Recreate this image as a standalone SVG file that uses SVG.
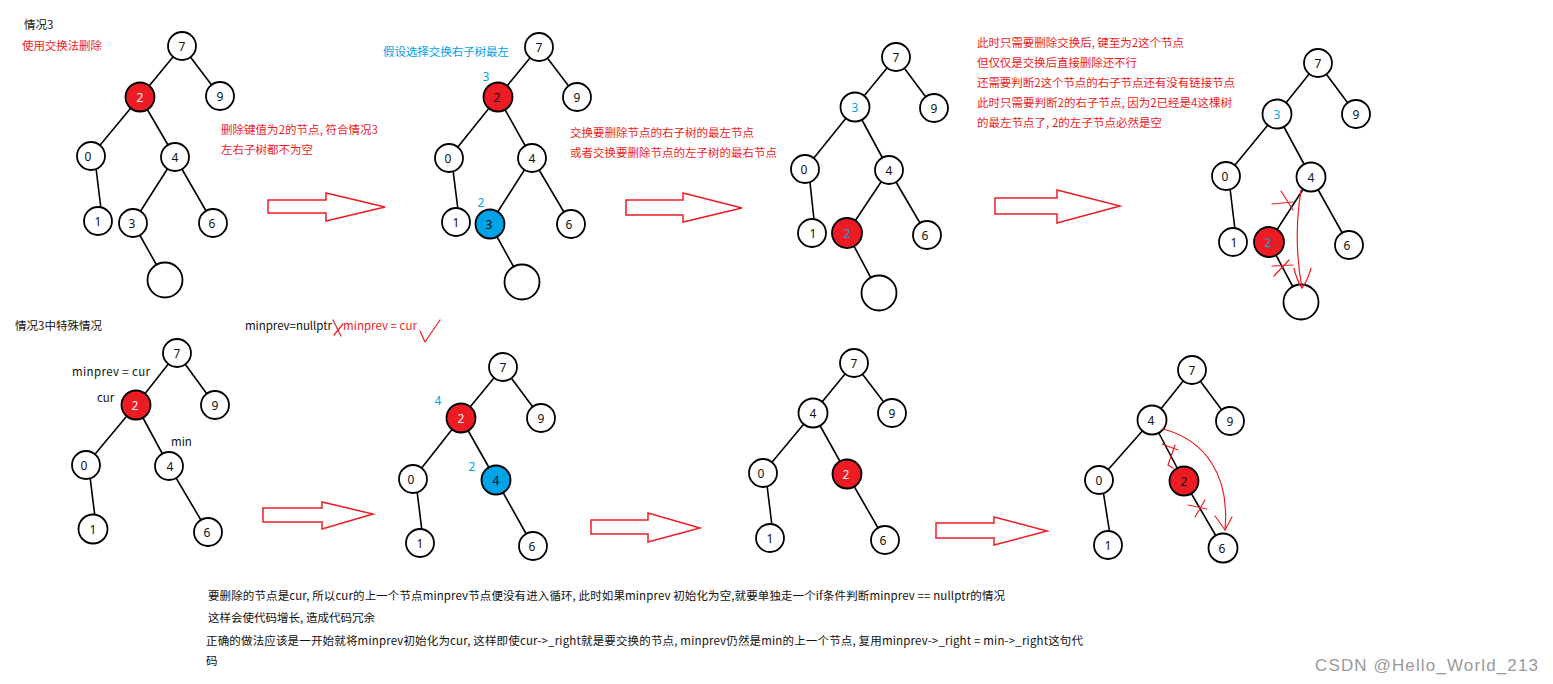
<svg xmlns="http://www.w3.org/2000/svg" width="1553" height="684" viewBox="0 0 1553 684">
<style>
.n{fill:#fff;stroke:#000;stroke-width:1.8}
.r{fill:#ED1C24}
.b{fill:#00A2E8}
.d{font-family:"Noto Sans","Liberation Sans",sans-serif;font-size:12px;text-anchor:middle;fill:#111}
.dl{fill:#f2f2f2}
.db{fill:#00A2E8}
.e line{stroke:#000;stroke-width:1.6}
.t{font-family:"Noto Sans CJK SC","Noto Sans",sans-serif;font-size:11.5px;fill:#111}
.red{fill:#ED1C24}
.blue{fill:#00A2E8}
.arr{fill:#fff;stroke:#ED1C24;stroke-width:1.5}
.mk{fill:none;stroke:#ED1C24;stroke-width:1.2;stroke-linecap:round;stroke-linejoin:round}
.wm{font-family:"Liberation Sans",Arial,sans-serif;font-size:17px;fill:#999}
</style>
<rect width="1553" height="684" fill="#fff"/>

<g id="connectors" class="e">
<!-- T1 -->
<line x1="182" y1="46" x2="140" y2="97"/><line x1="182" y1="46" x2="220" y2="96"/>
<line x1="140" y1="97" x2="91" y2="156"/><line x1="140" y1="97" x2="175" y2="157"/>
<line x1="95" y1="160" x2="102" y2="217"/><line x1="175" y1="157" x2="133" y2="223"/>
<line x1="175" y1="157" x2="213" y2="223"/><line x1="133" y1="223" x2="165" y2="280"/>
<!-- T2 -->
<line x1="539" y1="47" x2="498" y2="97"/><line x1="539" y1="47" x2="577" y2="97"/>
<line x1="498" y1="97" x2="449" y2="158"/><line x1="498" y1="97" x2="532" y2="158"/>
<line x1="452" y1="162" x2="459" y2="218"/><line x1="532" y1="158" x2="490" y2="224"/>
<line x1="532" y1="158" x2="571" y2="224"/><line x1="490" y1="224" x2="522" y2="282"/>
<!-- T3 -->
<line x1="896" y1="57" x2="855" y2="107"/><line x1="896" y1="57" x2="934" y2="108"/>
<line x1="855" y1="107" x2="805" y2="169"/><line x1="855" y1="107" x2="889" y2="170"/>
<line x1="809" y1="173" x2="815" y2="229"/><line x1="889" y1="170" x2="847" y2="233"/>
<line x1="889" y1="170" x2="927" y2="235"/><line x1="847" y1="233" x2="879" y2="293"/>
<!-- T4 -->
<line x1="1318" y1="63" x2="1277" y2="114"/><line x1="1318" y1="63" x2="1356" y2="114"/>
<line x1="1277" y1="114" x2="1226" y2="176"/><line x1="1277" y1="114" x2="1311" y2="177"/>
<line x1="1229" y1="180" x2="1236" y2="238"/><line x1="1311" y1="177" x2="1269" y2="242"/>
<line x1="1311" y1="177" x2="1349" y2="245"/><line x1="1269" y1="242" x2="1301" y2="302"/>
<!-- T5 -->
<line x1="177" y1="353" x2="136" y2="405"/><line x1="177" y1="353" x2="215" y2="405"/>
<line x1="136" y1="405" x2="86" y2="465"/><line x1="136" y1="405" x2="169" y2="466"/>
<line x1="89" y1="469" x2="96" y2="525"/><line x1="169" y1="466" x2="208" y2="532"/>
<!-- T6 -->
<line x1="503" y1="367" x2="461" y2="418"/><line x1="503" y1="367" x2="541" y2="418"/>
<line x1="461" y1="418" x2="413" y2="479"/><line x1="461" y1="418" x2="496" y2="480"/>
<line x1="416" y1="483" x2="423" y2="539"/><line x1="496" y1="480" x2="533" y2="546"/>
<!-- T7 -->
<line x1="854" y1="363" x2="813" y2="413"/><line x1="854" y1="363" x2="892" y2="413"/>
<line x1="813" y1="413" x2="763" y2="473"/><line x1="813" y1="413" x2="847" y2="474"/>
<line x1="766" y1="477" x2="773" y2="534"/><line x1="847" y1="474" x2="885" y2="540"/>
<!-- T8 -->
<line x1="1192" y1="370" x2="1152" y2="420"/><line x1="1192" y1="370" x2="1230" y2="421"/>
<line x1="1152" y1="420" x2="1099" y2="480"/><line x1="1152" y1="420" x2="1184" y2="481"/>
<line x1="1102" y1="484" x2="1111" y2="541"/><line x1="1184" y1="481" x2="1223" y2="548"/>
</g>

<g id="arrows">
<polygon class="arr" points="268,200 326,200 326,193 385,207 326,221 326,213 268,213"/>
<polygon class="arr" points="626,200 683,200 683,193 742,208 683,222 683,215 626,215"/>
<polygon class="arr" points="995,198 1057,198 1057,190 1120,206 1057,223 1057,214 995,214"/>
<polygon class="arr" points="263,508 322,508 322,502 373,514 322,529 322,522 263,522"/>
<polygon class="arr" points="591,520 648,520 648,513 700,528 648,542 648,534 591,534"/>
<polygon class="arr" points="936,523 994,523 994,517 1047,531 994,545 994,538 936,538"/>
</g>

<!-- Tree 1 -->
<g id="t1-n7"><circle class="n" cx="182" cy="46" r="14"/><text class="d" x="182" y="50.5">7</text></g>
<g id="t1-n2"><circle class="n r" cx="140" cy="97" r="14.5"/><text class="d dl" x="140" y="101.5">2</text></g>
<g id="t1-n9"><circle class="n" cx="220" cy="96" r="14"/><text class="d" x="220" y="100.5">9</text></g>
<g id="t1-n0"><circle class="n" cx="91" cy="156" r="14"/><text class="d" x="88" y="160.5">0</text></g>
<g id="t1-n4"><circle class="n" cx="175" cy="157" r="14"/><text class="d" x="175" y="161.5">4</text></g>
<g id="t1-n1"><circle class="n" cx="98" cy="221" r="14"/><text class="d" x="98" y="225.5">1</text></g>
<g id="t1-n3"><circle class="n" cx="133" cy="223" r="14"/><text class="d" x="132" y="227.5">3</text></g>
<g id="t1-n6"><circle class="n" cx="213" cy="223" r="14"/><text class="d" x="212" y="227.5">6</text></g>
<g id="t1-nil"><circle class="n" cx="165" cy="280" r="17.5"/></g>

<!-- Tree 2 -->
<g id="t2-n7"><circle class="n" cx="539" cy="47" r="14"/><text class="d" x="539" y="51.5">7</text></g>
<g id="t2-n2"><circle class="n r" cx="498" cy="97" r="14.5"/><text class="d" x="497" y="101.5">2</text><text class="d db" x="486" y="81">3</text></g>
<g id="t2-n9"><circle class="n" cx="577" cy="97" r="14"/><text class="d" x="577" y="101.5">9</text></g>
<g id="t2-n0"><circle class="n" cx="449" cy="158" r="14"/><text class="d" x="448" y="162.5">0</text></g>
<g id="t2-n4"><circle class="n" cx="532" cy="158" r="14"/><text class="d" x="532" y="162.5">4</text></g>
<g id="t2-n1"><circle class="n" cx="456" cy="222" r="14"/><text class="d" x="456" y="226.5">1</text></g>
<g id="t2-n3"><circle class="n b" cx="490" cy="224" r="14.5"/><text class="d" x="489" y="228.5">3</text><text class="d db" x="481" y="207">2</text></g>
<g id="t2-n6"><circle class="n" cx="571" cy="224" r="14"/><text class="d" x="569" y="228.5">6</text></g>
<g id="t2-nil"><circle class="n" cx="522" cy="282" r="17.5"/></g>

<!-- Tree 3 -->
<g id="t3-n7"><circle class="n" cx="896" cy="57" r="14"/><text class="d" x="896" y="61.5">7</text></g>
<g id="t3-n3"><circle class="n" cx="855" cy="107" r="14.5"/><text class="d db" x="855" y="111.5">3</text></g>
<g id="t3-n9"><circle class="n" cx="934" cy="108" r="14"/><text class="d" x="934" y="112.5">9</text></g>
<g id="t3-n0"><circle class="n" cx="805" cy="169" r="14"/><text class="d" x="804" y="173.5">0</text></g>
<g id="t3-n4"><circle class="n" cx="889" cy="170" r="14"/><text class="d" x="889" y="174.5">4</text></g>
<g id="t3-n1"><circle class="n" cx="812" cy="233" r="14"/><text class="d" x="813" y="237.5">1</text></g>
<g id="t3-n2"><circle class="n r" cx="847" cy="233" r="15"/><text class="d db" x="847" y="237.5">2</text></g>
<g id="t3-n6"><circle class="n" cx="927" cy="235" r="14"/><text class="d" x="925" y="239.5">6</text></g>
<g id="t3-nil"><circle class="n" cx="879" cy="293" r="17.5"/></g>

<!-- Tree 4 -->
<g id="t4-n7"><circle class="n" cx="1318" cy="63" r="14"/><text class="d" x="1318" y="67.5">7</text></g>
<g id="t4-n3"><circle class="n" cx="1277" cy="114" r="14.5"/><text class="d db" x="1277" y="118.5">3</text></g>
<g id="t4-n9"><circle class="n" cx="1356" cy="114" r="14"/><text class="d" x="1356" y="118.5">9</text></g>
<g id="t4-n0"><circle class="n" cx="1226" cy="176" r="14"/><text class="d" x="1225" y="180.5">0</text></g>
<g id="t4-n4"><circle class="n" cx="1311" cy="177" r="14.5"/><text class="d" x="1311" y="181.5">4</text></g>
<g id="t4-n1"><circle class="n" cx="1233" cy="242" r="14"/><text class="d" x="1234" y="246.5">1</text></g>
<g id="t4-n2"><circle class="n r" cx="1269" cy="242" r="15"/><text class="d db" x="1268" y="246.5">2</text></g>
<g id="t4-n6"><circle class="n" cx="1349" cy="245" r="14"/><text class="d" x="1347" y="249.5">6</text></g>
<g id="t4-nil"><circle class="n" cx="1301" cy="302" r="17.5"/></g>

<!-- Tree 5 -->
<g id="t5-n7"><circle class="n" cx="177" cy="353" r="14"/><text class="d" x="177" y="357.5">7</text></g>
<g id="t5-n2"><circle class="n r" cx="136" cy="405" r="14.5"/><text class="d dl" x="135" y="409.5">2</text></g>
<g id="t5-n9"><circle class="n" cx="215" cy="405" r="14"/><text class="d" x="215" y="409.5">9</text></g>
<g id="t5-n0"><circle class="n" cx="86" cy="465" r="14"/><text class="d" x="84" y="469.5">0</text></g>
<g id="t5-n4"><circle class="n" cx="169" cy="466" r="14"/><text class="d" x="170" y="470.5">4</text></g>
<g id="t5-n1"><circle class="n" cx="93" cy="529" r="14.5"/><text class="d" x="93" y="533.5">1</text></g>
<g id="t5-n6"><circle class="n" cx="208" cy="532" r="14"/><text class="d" x="207" y="536.5">6</text></g>

<!-- Tree 6 -->
<g id="t6-n7"><circle class="n" cx="503" cy="367" r="14"/><text class="d" x="503" y="371.5">7</text></g>
<g id="t6-n2"><circle class="n r" cx="461" cy="418" r="14.5"/><text class="d dl" x="461" y="422.5">2</text><text class="d db" x="438" y="405">4</text></g>
<g id="t6-n9"><circle class="n" cx="541" cy="418" r="14"/><text class="d" x="541" y="422.5">9</text></g>
<g id="t6-n0"><circle class="n" cx="413" cy="479" r="14"/><text class="d" x="411" y="483.5">0</text></g>
<g id="t6-n4"><circle class="n b" cx="496" cy="480" r="14.5"/><text class="d" x="496" y="484.5">4</text><text class="d db" x="472" y="471">2</text></g>
<g id="t6-n1"><circle class="n" cx="420" cy="543" r="14"/><text class="d" x="420" y="547.5">1</text></g>
<g id="t6-n6"><circle class="n" cx="533" cy="546" r="14"/><text class="d" x="532" y="550.5">6</text></g>

<!-- Tree 7 -->
<g id="t7-n7"><circle class="n" cx="854" cy="363" r="14"/><text class="d" x="854" y="367.5">7</text></g>
<g id="t7-n4"><circle class="n" cx="813" cy="413" r="14.5"/><text class="d" x="813" y="417.5">4</text></g>
<g id="t7-n9"><circle class="n" cx="892" cy="413" r="14"/><text class="d" x="892" y="417.5">9</text></g>
<g id="t7-n0"><circle class="n" cx="763" cy="473" r="14"/><text class="d" x="761" y="477.5">0</text></g>
<g id="t7-n2"><circle class="n r" cx="847" cy="474" r="14.5"/><text class="d dl" x="846" y="478.5">2</text></g>
<g id="t7-n1"><circle class="n" cx="770" cy="538" r="14"/><text class="d" x="770" y="542.5">1</text></g>
<g id="t7-n6"><circle class="n" cx="885" cy="540" r="14"/><text class="d" x="883" y="544.5">6</text></g>

<!-- Tree 8 -->
<g id="t8-n7"><circle class="n" cx="1192" cy="370" r="14"/><text class="d" x="1192" y="374.5">7</text></g>
<g id="t8-n4"><circle class="n" cx="1152" cy="420" r="14.5"/><text class="d" x="1151" y="424.5">4</text></g>
<g id="t8-n9"><circle class="n" cx="1230" cy="421" r="14"/><text class="d" x="1230" y="425.5">9</text></g>
<g id="t8-n0"><circle class="n" cx="1099" cy="480" r="14"/><text class="d" x="1099" y="484.5">0</text></g>
<g id="t8-n2"><circle class="n r" cx="1184" cy="481" r="14.5"/><text class="d" x="1184" y="485.5">2</text></g>
<g id="t8-n1"><circle class="n" cx="1108" cy="545" r="14"/><text class="d" x="1108" y="549.5">1</text></g>
<g id="t8-n6"><circle class="n" cx="1223" cy="548" r="14.5"/><text class="d" x="1222" y="552.5">6</text></g>

<!-- red hand marks -->
<g id="marks" class="mk">
<path d="M1272,204 L1293,202 M1281,191 L1293,210"/>
<path d="M1272,266 L1293,265 M1274,276 L1289,260"/>
<path d="M1301,190 Q1293,240 1302,288"/>
<path d="M1294,268 Q1297,281 1302,288 M1311,268 Q1308,280 1302,288"/>
<path d="M1162,444 L1178,450 M1175,445 L1168,465 L1173,468"/>
<path d="M1188,505 L1207,509 M1195,517 L1205,500"/>
<path d="M1163,429 C1205,440 1230,475 1225,530"/>
<path d="M1215,516 L1225,530 L1232,517"/>
<path d="M333,320 L341,336 M334,335 L343,324"/>
<path d="M420,331 L425,342 L440,320"/>
</g>

<!-- texts -->
<g id="texts">
<text class="t" x="24" y="29">情况3</text>
<text class="t red" x="22" y="50" textLength="80">使用交换法删除</text>
<text class="t red" x="221" y="134" textLength="157">删除键值为2的节点, 符合情况3</text>
<text class="t red" x="221" y="154" textLength="92">左右子树都不为空</text>
<text class="t blue" x="383" y="56" textLength="126">假设选择交换右子树最左</text>
<text class="t red" x="570" y="137" textLength="184">交换要删除节点的右子树的最左节点</text>
<text class="t red" x="570" y="157" textLength="207">或者交换要删除节点的左子树的最右节点</text>
<text class="t red" x="977" y="47" textLength="207">此时只需要删除交换后, 键至为2这个节点</text>
<text class="t red" x="977" y="67" textLength="160">但仅仅是交换后直接删除还不行</text>
<text class="t red" x="977" y="87" textLength="258">还需要判断2这个节点的右子节点还有没有链接节点</text>
<text class="t red" x="977" y="107" textLength="255">此时只需要判断2的右子节点, 因为2已经是4这棵树</text>
<text class="t red" x="977" y="127" textLength="185">的最左节点了, 2的左子节点必然是空</text>
<text class="t" x="15" y="330" textLength="87">情况3中特殊情况</text>
<text class="t" x="245" y="330" textLength="87">minprev=nullptr</text>
<text class="t red" x="343" y="330" textLength="74">minprev = cur</text>
<text class="t" x="72" y="376" textLength="78">minprev = cur</text>
<text class="t" x="97" y="402">cur</text>
<text class="t" x="171" y="446">min</text>
<text class="t" x="208" y="600" textLength="797">要删除的节点是cur, 所以cur的上一个节点minprev节点便没有进入循环, 此时如果minprev 初始化为空,就要单独走一个if条件判断minprev == nullptr的情况</text>
<text class="t" x="208" y="622" textLength="167">这样会使代码增长, 造成代码冗余</text>
<text class="t" x="206" y="645" textLength="877">正确的做法应该是一开始就将minprev初始化为cur, 这样即使cur-&gt;_right就是要交换的节点, minprev仍然是min的上一个节点, 复用minprev-&gt;_right = min-&gt;_right这句代</text>
<text class="t" x="206" y="665">码</text>
<text class="wm" x="1315" y="671" textLength="223">CSDN @Hello_World_213</text>
</g>
</svg>
